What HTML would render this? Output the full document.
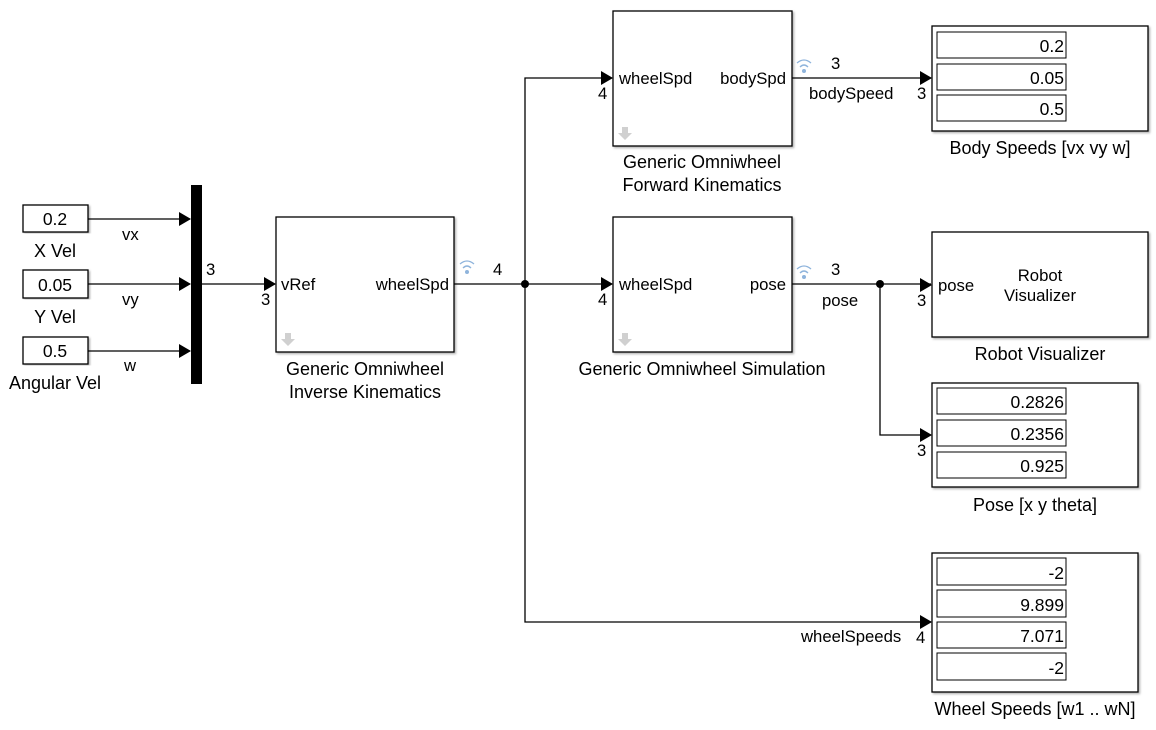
<!DOCTYPE html>
<html><head><meta charset="utf-8"><style>
html,body{margin:0;padding:0;background:#fff;}
svg{display:block;font-family:"Liberation Sans",Arial,sans-serif;}
</style></head><body>
<svg width="1156" height="730" viewBox="0 0 1156 730" xmlns="http://www.w3.org/2000/svg">
<defs>
<filter id="sh" x="-5%" y="-5%" width="110%" height="110%"><feDropShadow dx="1.5" dy="1.5" stdDeviation="1" flood-color="#000" flood-opacity="0.3"/></filter>
<g id="ar"><path d="M-12,-7 L0,0 L-12,7 Z" fill="#000"/></g>
<g id="dn"><path d="M-3,0 h6 v6 h4 l-7,7 l-7,-7 h4 Z" fill="#d0d0d0"/></g>
<g id="wf" fill="none" stroke="#8fb4dc" stroke-width="1.3"><path d="M-7,-9 Q0,-15 7,-9"/><path d="M-4,-5 Q0,-9 4,-5"/><circle cx="0" cy="-1" r="2" fill="#8fb4dc" stroke="none"/></g>
</defs>
<g fill="#fff" stroke="#000" stroke-width="1.3">
<rect x="23" y="205" width="65" height="27" filter="url(#sh)"/>
<rect x="23" y="270" width="65" height="28" filter="url(#sh)"/>
<rect x="23" y="337" width="65" height="27" filter="url(#sh)"/>
<rect x="276" y="217" width="178" height="135" filter="url(#sh)"/>
<rect x="613" y="11" width="179" height="135" filter="url(#sh)"/>
<rect x="613" y="217" width="179" height="135" filter="url(#sh)"/>
<rect x="932" y="26" width="216" height="105" filter="url(#sh)"/>
<rect x="932" y="232" width="216" height="105" filter="url(#sh)"/>
<rect x="932" y="383" width="206" height="104" filter="url(#sh)"/>
<rect x="932" y="553" width="206" height="139" filter="url(#sh)"/>
</g>
<g fill="#fff" stroke="#000" stroke-width="1">
<rect x="937" y="32" width="129" height="26"/><rect x="937" y="64" width="129" height="26"/><rect x="937" y="95" width="129" height="26"/>
<rect x="937" y="388" width="129" height="26"/><rect x="937" y="420" width="129" height="26"/><rect x="937" y="452" width="129" height="26"/>
<rect x="937" y="558" width="129" height="27"/><rect x="937" y="590" width="129" height="27"/><rect x="937" y="622" width="129" height="26"/><rect x="937" y="653" width="129" height="27"/>
</g>
<rect x="191" y="185" width="11" height="199" fill="#000"/>
<g stroke="#000" stroke-width="1.3" fill="none">
<path d="M88,219 H190"/><path d="M88,284 H190"/><path d="M88,351 H190"/>
<path d="M202,284 H275"/>
<path d="M454,284 H612"/>
<path d="M525,284 V78 H612"/>
<path d="M525,284 V622 H931"/>
<path d="M792,78 H931"/>
<path d="M792,284 H931"/>
<path d="M880,284 V435 H931"/>
</g>
<circle cx="525" cy="284" r="4" fill="#000"/>
<circle cx="880" cy="284" r="4" fill="#000"/>
<use href="#ar" x="191" y="219"/><use href="#ar" x="191" y="284"/><use href="#ar" x="191" y="351"/>
<use href="#ar" x="276" y="284"/><use href="#ar" x="613" y="78"/><use href="#ar" x="613" y="284"/>
<use href="#ar" x="932" y="78"/><use href="#ar" x="932" y="285"/><use href="#ar" x="932" y="435"/><use href="#ar" x="932" y="622"/>
<use href="#dn" x="288" y="333"/><use href="#dn" x="625" y="127"/><use href="#dn" x="625" y="333"/>
<use href="#wf" x="467" y="273"/><use href="#wf" x="804" y="72"/><use href="#wf" x="804" y="278"/>
<g font-size="18" fill="#000">
<g font-size="17.5">
<text x="55" y="225" text-anchor="middle">0.2</text>
<text x="55" y="291" text-anchor="middle">0.05</text>
<text x="55" y="357" text-anchor="middle">0.5</text>
</g>
<text x="55" y="257" text-anchor="middle">X Vel</text>
<text x="55" y="323" text-anchor="middle">Y Vel</text>
<text x="55" y="389" text-anchor="middle">Angular Vel</text>
<g font-size="16.7">
<text x="122" y="240">vx</text><text x="122" y="305">vy</text><text x="124" y="371">w</text>
<text x="206" y="275">3</text><text x="261" y="305">3</text>
<text x="281" y="290">vRef</text><text x="449" y="290" text-anchor="end">wheelSpd</text>
<text x="493" y="275">4</text>
<text x="598" y="99">4</text><text x="598" y="305">4</text>
<text x="619" y="84">wheelSpd</text><text x="786" y="84" text-anchor="end">bodySpd</text>
<text x="619" y="290">wheelSpd</text><text x="786" y="290" text-anchor="end">pose</text>
<text x="831" y="69">3</text><text x="809" y="99">bodySpeed</text>
<text x="831" y="275">3</text><text x="822" y="306">pose</text>
<text x="917" y="99">3</text><text x="917" y="306">3</text><text x="917" y="456">3</text><text x="916" y="643">4</text>
<text x="801" y="642">wheelSpeeds</text>
<text x="938" y="291">pose</text>
<text x="1040" y="281" text-anchor="middle">Robot</text>
<text x="1040" y="301" text-anchor="middle">Visualizer</text>
</g>
<text x="365" y="375" text-anchor="middle">Generic Omniwheel</text>
<text x="365" y="398" text-anchor="middle">Inverse Kinematics</text>
<text x="702" y="168" text-anchor="middle">Generic Omniwheel</text>
<text x="702" y="191" text-anchor="middle">Forward Kinematics</text>
<text x="702" y="375" text-anchor="middle">Generic Omniwheel Simulation</text>
<text x="1040" y="154" text-anchor="middle">Body Speeds [vx vy w]</text>
<text x="1040" y="360" text-anchor="middle">Robot Visualizer</text>
<text x="1035" y="511" text-anchor="middle">Pose [x y theta]</text>
<text x="1035" y="715" text-anchor="middle">Wheel Speeds [w1 .. wN]</text>
<g font-size="17.5" text-anchor="end">
<text x="1064" y="52">0.2</text><text x="1064" y="84">0.05</text><text x="1064" y="115">0.5</text>
<text x="1064" y="408">0.2826</text><text x="1064" y="440">0.2356</text><text x="1064" y="472">0.925</text>
<text x="1064" y="579">-2</text><text x="1064" y="611">9.899</text><text x="1064" y="642">7.071</text><text x="1064" y="674">-2</text>
</g>
</g>
</svg>
</body></html>
